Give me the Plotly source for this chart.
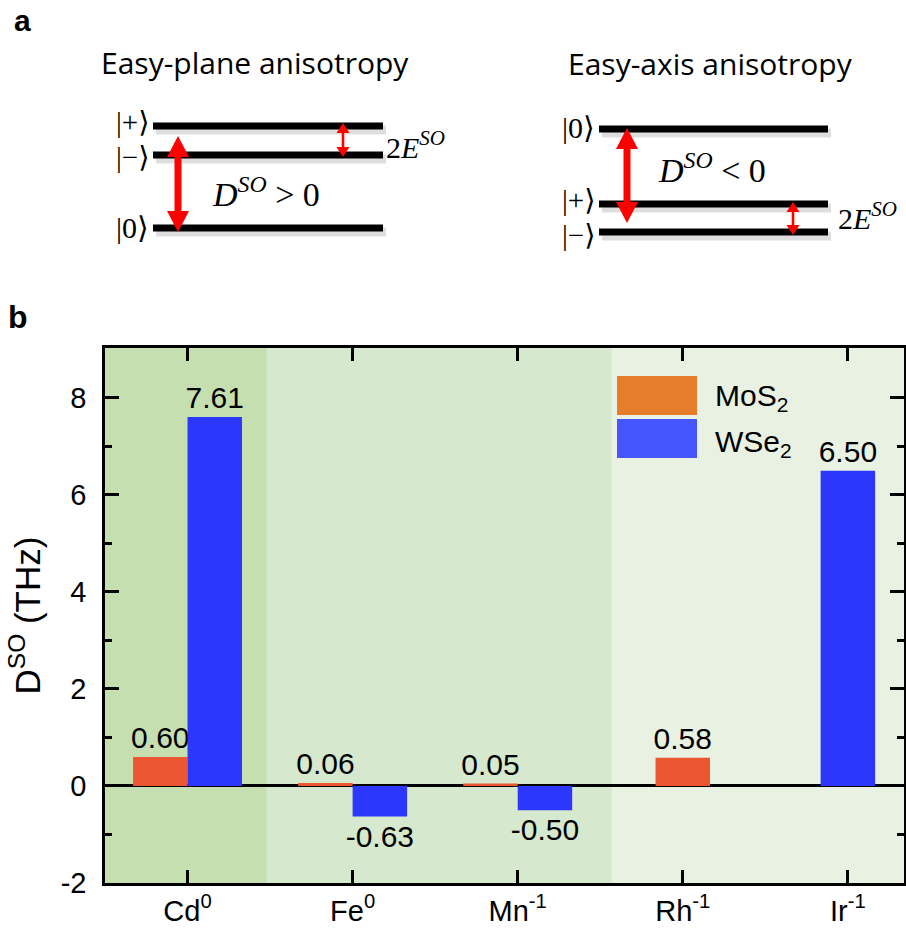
import plotly.graph_objects as go

# ---------------- data ----------------
categories = ["Cd<sup>0</sup>", "Fe<sup>0</sup>", "Mn<sup>-1</sup>", "Rh<sup>-1</sup>", "Ir<sup>-1</sup>"]
mos2_values = [0.60, 0.06, 0.05, 0.58, None]
wse2_values = [7.61, -0.63, -0.50, None, 6.50]
series_names = ["MoS<sub>2</sub>", "WSe<sub>2</sub>"]
y_tickvals = [-2, 0, 2, 4, 6, 8]
y_ticktext = ["-2", "0", "2", "4", "6", "8"]

W, H = 906, 929


def X(px):
    return px / W


def Y(py):
    return 1 - py / H


BAR_W = 0.33
ORANGE = "#ec5631"
BLUE = "#2b38fb"

# offsets: side by side when both present, centred when alone
mos_off, wse_off = [], []
for m, w in zip(mos2_values, wse2_values):
    if m is not None and w is not None:
        mos_off.append(-BAR_W)
        wse_off.append(0.0)
    else:
        mos_off.append(-BAR_W / 2)
        wse_off.append(-BAR_W / 2)


def labels(vals):
    return [("" if v is None else f"{v:.2f}") for v in vals]


SERIF = "Liberation Serif, Times New Roman, DejaVu Serif"
SANS = "Liberation Sans, Arial"

fig = go.Figure()
fig.add_trace(go.Bar(
    x=categories, y=mos2_values, name=series_names[0],
    width=BAR_W, offset=mos_off, marker=dict(color=ORANGE, line=dict(width=0)),
    text=labels(mos2_values), textposition="outside", constraintext="none",
    textfont=dict(family=SANS, size=30, color="black"),
    cliponaxis=False, showlegend=False,
))
fig.add_trace(go.Bar(
    x=categories, y=wse2_values, name=series_names[1],
    width=BAR_W, offset=wse_off, marker=dict(color=BLUE, line=dict(width=0)),
    text=labels(wse2_values), textposition="outside", constraintext="none",
    textfont=dict(family=SANS, size=30, color="black"),
    cliponaxis=False, showlegend=False,
))

shapes = []
# background shading regions in plot
regions = [(-0.5, 0.48, "#c5dfb1"), (0.48, 2.57, "#d6e8cd"), (2.57, 4.34, "#e9f1e3")]
for x0, x1, c in regions:
    shapes.append(dict(type="rect", xref="x", yref="y domain", x0=x0, x1=x1, y0=0, y1=1,
                       fillcolor=c, line=dict(width=0), layer="below"))

# legend swatches (manual, large)
shapes.append(dict(type="rect", xref="paper", yref="paper", x0=X(617), x1=X(697), y0=Y(415), y1=Y(376),
                   fillcolor="#e67d2a", line=dict(width=0)))
shapes.append(dict(type="rect", xref="paper", yref="paper", x0=X(617), x1=X(697), y0=Y(458), y1=Y(419),
                   fillcolor="#4656ff", line=dict(width=0)))


# ---------- panel a: energy level diagrams ----------
def level(x0, x1, y):
    shapes.append(dict(type="line", xref="paper", yref="paper", x0=X(x0 + 3), x1=X(x1 + 3),
                       y0=Y(y + 4), y1=Y(y + 4), line=dict(color="rgba(0,0,0,0.13)", width=9)))
    shapes.append(dict(type="line", xref="paper", yref="paper", x0=X(x0), x1=X(x1),
                       y0=Y(y), y1=Y(y), line=dict(color="black", width=7)))


def darrow(x, ytop, ybot, hh, hw, sw):
    pts = [(x - sw, ytop + hh), (x - hw, ytop + hh), (x, ytop), (x + hw, ytop + hh), (x + sw, ytop + hh),
           (x + sw, ybot - hh), (x + hw, ybot - hh), (x, ybot), (x - hw, ybot - hh), (x - sw, ybot - hh)]
    path = "M " + " L ".join(f"{X(px):.5f},{Y(py):.5f}" for px, py in pts) + " Z"
    shapes.append(dict(type="path", xref="paper", yref="paper", path=path,
                       fillcolor="#ff0000", line=dict(width=0)))


for yy in (126, 155, 228):
    level(153, 383, yy)
for yy in (129, 204, 232):
    level(599, 828, yy)

darrow(178, 136, 232, 21, 11, 3.5)
darrow(343, 123, 157, 10, 6.5, 1.3)
darrow(627, 128, 223, 21, 11, 3.5)
darrow(793, 202, 235, 10, 6.5, 1.3)

annotations = []


def ann(text, px, py, size, family, xanchor="center", yanchor="middle", color="black"):
    annotations.append(dict(text=text, x=X(px), y=Y(py), xref="paper", yref="paper",
                            xanchor=xanchor, yanchor=yanchor, showarrow=False,
                            font=dict(size=size, family=family, color=color)))


ann("<b>a</b>", 22, 20, 30, SANS)
ann("<b>b</b>", 18, 317, 32, SANS)
ann("Easy-plane anisotropy", 255, 62, 30, "Open Sans")
ann("Easy-axis anisotropy", 710, 63, 30, "Open Sans")

ann("|+\u27e9", 151, 122, 29, SERIF, xanchor="right")
ann("|\u2212\u27e9", 151, 157, 29, SERIF, xanchor="right")
ann("|0\u27e9", 151, 227, 30, SERIF, xanchor="right")
ann("|0\u27e9", 597, 128, 30, SERIF, xanchor="right")
ann("|+\u27e9", 597, 200, 29, SERIF, xanchor="right")
ann("|\u2212\u27e9", 597, 235, 29, SERIF, xanchor="right")

ann("2<i>E</i><sup><i>SO</i></sup>", 384, 145, 30, SERIF, xanchor="left")
ann("2<i>E</i><sup><i>SO</i></sup>", 836, 216, 30, SERIF, xanchor="left")
ann("<i>D</i><sup><i>SO</i></sup> &gt; 0", 210, 192, 34, SERIF, xanchor="left")
ann("<i>D</i><sup><i>SO</i></sup> &lt; 0", 656, 168, 34, SERIF, xanchor="left")

# legend text
ann(series_names[0], 713, 398, 30, SANS, xanchor="left")
ann(series_names[1], 713, 443, 30, SANS, xanchor="left")

fig.update_layout(
    width=W, height=H, autosize=False,
    margin=dict(l=0, r=0, t=0, b=0),
    paper_bgcolor="white", plot_bgcolor="#e9f1e3",
    barmode="overlay",
    font=dict(family=SANS, size=28, color="black"),
    shapes=shapes, annotations=annotations,
    xaxis=dict(
        domain=[X(105), X(904)], range=[-0.5, 4.34], type="category",
        showline=True, linecolor="black", linewidth=2.5, mirror="ticks",
        ticks="inside", ticklen=13, tickwidth=2.5, tickcolor="black",
        tickfont=dict(size=29, family=SANS), ticklabelstandoff=0,
        showgrid=False, zeroline=False, automargin=False, fixedrange=True,
    ),
    yaxis=dict(
        domain=[Y(883), Y(348)], range=[-2, 9.03],
        tickmode="array", tickvals=y_tickvals, ticktext=y_ticktext,
        showline=True, linecolor="black", linewidth=2.5, mirror="ticks",
        ticks="inside", ticklen=14, tickwidth=2.5, tickcolor="black",
        minor=dict(tickmode="array", tickvals=[-1, 1, 3, 5, 7], ticks="inside", ticklen=7,
                   tickwidth=2.5, tickcolor="black", showgrid=False),
        tickfont=dict(size=29, family=SANS), ticklabelstandoff=10,
        showgrid=False, zeroline=True, zerolinecolor="black", zerolinewidth=2.5,
        title=dict(text="D<sup>SO</sup> (THz)", font=dict(size=35, family=SANS), standoff=10),
        automargin=False, fixedrange=True,
    ),
)

fig.write_html("out.html", config={"displayModeBar": False},
               post_script="document.body.style.margin='0';document.body.style.overflow='hidden';")
